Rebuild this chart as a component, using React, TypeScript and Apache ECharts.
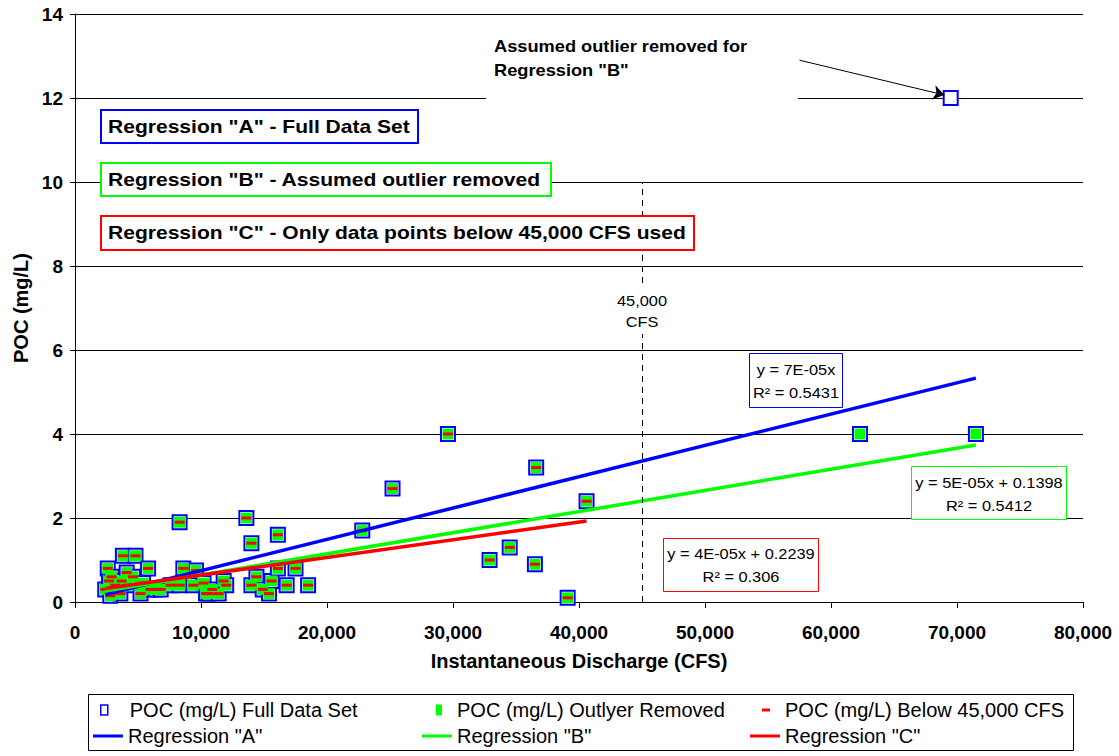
import React, { useEffect, useRef } from "react";
import * as echarts from "echarts";

// ---------- data ----------
const fullDataSet: [number, number][] = [
  [2400, 0.3], [2600, 0.8], [2700, 0.5], [2800, 0.15], [2900, 0.6], [3200, 0.4],
  [3600, 0.2], [3700, 0.5], [3800, 1.1], [4100, 0.7], [4200, 0.4], [4600, 0.6],
  [4800, 1.1], [5200, 0.2], [5400, 0.45], [5800, 0.8], [6000, 0.3], [6400, 0.3],
  [6800, 0.3], [7600, 0.4], [8300, 1.9], [8300, 0.4], [8600, 0.8], [9400, 0.4],
  [9600, 0.75], [10200, 0.45], [10400, 0.2], [10600, 0.2], [10900, 0.3], [11400, 0.2],
  [11800, 0.5], [12000, 0.4], [13600, 2.0], [14000, 1.4], [14000, 0.4], [14400, 0.6],
  [14900, 0.3], [15400, 0.2], [15600, 0.5], [16100, 1.6], [16100, 0.8], [16800, 0.4],
  [17500, 0.8], [18500, 0.4], [22800, 1.7], [25200, 2.7], [29600, 4.0], [32900, 1.0],
  [34500, 1.3], [36500, 0.9], [36600, 3.2], [39100, 0.1], [40600, 2.4], [62300, 4.0],
  [69500, 12.0], [71500, 4.0],
];
const outlierPoint: [number, number] = [69500, 12.0];
const cfsLimit = 45000;

// regression lines (end points)
const regressionA: [number, number][] = [[2400, 0.18], [71500, 5.33]];
const regressionB: [number, number][] = [[2400, 0.26], [71500, 3.74]];
const regressionC: [number, number][] = [[2400, 0.32], [40600, 1.93]];

const equationA = ["y = 7E-05x", "R² = 0.5431"];
const equationB = ["y = 5E-05x + 0.1398", "R² = 0.5412"];
const equationC = ["y = 4E-05x + 0.2239", "R² = 0.306"];

const seriesNames = [
  "POC (mg/L) Full Data Set",
  "POC (mg/L) Outlyer Removed",
  "POC (mg/L) Below 45,000 CFS",
  'Regression "A"',
  'Regression "B"',
  'Regression "C"',
];

const outlyerRemoved = fullDataSet.filter(
  (p) => !(p[0] === outlierPoint[0] && p[1] === outlierPoint[1])
);
const below45k = fullDataSet.filter((p) => p[0] < cfsLimit);

const BLUE = "#0000FF";
const GREEN = "#00FF00";
const RED = "#FF0000";
const FONT = "'Liberation Sans', Arial, sans-serif";
const SX = 1.17;

export default function App() {
  const ref = useRef<HTMLDivElement>(null);
  useEffect(() => {
    document.body.style.margin = "0";
    if (!ref.current) return;
    const chart = echarts.init(ref.current, null, { renderer: "svg" });

    const legendText = (pad: number) => ({
      fontSize: 20,
      fontFamily: FONT,
      color: "#000",
      lineHeight: 22,
      padding: [0, 0, 0, pad],
    });

    const option: any = {
      animation: false,
      backgroundColor: "#fff",
      textStyle: { fontFamily: FONT },
      grid: { left: 75, right: 36, top: 14, bottom: 154, containLabel: false },
      xAxis: {
        type: "value",
        min: 0,
        max: 80000,
        interval: 10000,
        name: "Instantaneous Discharge (CFS)",
        nameLocation: "middle",
        nameGap: 49,
        nameTextStyle: { fontSize: 20, fontWeight: "bold", color: "#000", fontFamily: FONT },
        axisLine: { show: true, lineStyle: { color: "#000", width: 1 } },
        axisTick: { show: true, length: 6, lineStyle: { color: "#000" } },
        axisLabel: {
          fontSize: 19,
          fontWeight: "bold",
          color: "#000",
          margin: 21,
          formatter: (v: number) => v.toLocaleString("en-US"),
        },
        splitLine: { show: false },
      },
      yAxis: {
        type: "value",
        min: 0,
        max: 14,
        interval: 2,
        name: "POC (mg/L)",
        nameLocation: "middle",
        nameGap: 28,
        nameRotate: 90,
        nameTextStyle: { fontSize: 20, fontWeight: "bold", color: "#000", fontFamily: FONT },
        axisLine: { show: true, lineStyle: { color: "#000", width: 1 } },
        axisTick: { show: true, length: 5, lineStyle: { color: "#000" } },
        axisLabel: { fontSize: 19, fontWeight: "bold", color: "#000", margin: 12 },
        splitLine: { show: true, lineStyle: { color: "#000", width: 1 } },
      },
      legend: [
        {
          data: [{ name: seriesNames[0], icon: "rect", itemStyle: { color: "#fff", borderColor: BLUE, borderWidth: 1.5 } }],
          left: 100, top: 699, itemWidth: 7, itemHeight: 10, padding: 0, selectedMode: false,
          textStyle: legendText(17),
        },
        {
          data: [{ name: seriesNames[1], icon: "rect", itemStyle: { color: GREEN, borderWidth: 0 } }],
          left: 436, top: 699, itemWidth: 6, itemHeight: 11, padding: 0, selectedMode: false,
          textStyle: legendText(10),
        },
        {
          data: [{ name: seriesNames[2], icon: "rect", itemStyle: { color: RED, borderWidth: 0 } }],
          left: 762, top: 699, itemWidth: 8, itemHeight: 3, padding: 0, selectedMode: false,
          textStyle: legendText(10),
        },
        {
          data: [{ name: seriesNames[3], icon: "rect", itemStyle: { color: BLUE, borderWidth: 0 } }],
          left: 93, top: 725, itemWidth: 30, itemHeight: 3, padding: 0, selectedMode: false,
          textStyle: legendText(0),
        },
        {
          data: [{ name: seriesNames[4], icon: "rect", itemStyle: { color: GREEN, borderWidth: 0 } }],
          left: 422, top: 725, itemWidth: 30, itemHeight: 3, padding: 0, selectedMode: false,
          textStyle: legendText(0),
        },
        {
          data: [{ name: seriesNames[5], icon: "rect", itemStyle: { color: RED, borderWidth: 0 } }],
          left: 750, top: 725, itemWidth: 30, itemHeight: 3, padding: 0, selectedMode: false,
          textStyle: legendText(0),
        },
      ],
      series: [
        {
          name: seriesNames[0],
          type: "scatter",
          data: fullDataSet,
          symbol: "rect",
          symbolSize: 14,
          itemStyle: { color: "#fff", borderColor: BLUE, borderWidth: 2, opacity: 1 },
          emphasis: { disabled: true },
          markLine: {
            silent: true,
            symbol: ["none", "arrow"],
            symbolSize: 11,
            label: { show: false },
            lineStyle: { color: "#000", width: 1, type: "solid" },
            data: [[{ coord: [57500, 12.9] }, { coord: [69000, 12.07] }]],
          },
        },
        {
          name: seriesNames[1],
          type: "scatter",
          data: outlyerRemoved,
          symbol: "rect",
          symbolSize: 11,
          itemStyle: { color: GREEN, opacity: 1 },
          emphasis: { disabled: true },
          markLine: {
            silent: true,
            symbol: ["none", "none"],
            label: { show: false },
            lineStyle: { color: "#000", width: 1, type: [6, 5] },
            data: [[{ coord: [cfsLimit, 0] }, { coord: [cfsLimit, 10] }]],
          },
        },
        {
          name: seriesNames[2],
          type: "scatter",
          data: below45k,
          symbol: "rect",
          symbolSize: [10, 3],
          itemStyle: { color: RED, opacity: 1 },
          emphasis: { disabled: true },
        },
        {
          name: seriesNames[3],
          type: "line",
          data: regressionA,
          showSymbol: false,
          symbol: "none",
          itemStyle: { color: BLUE },
          lineStyle: { color: BLUE, width: 3.5 },
          emphasis: { disabled: true },
        },
        {
          name: seriesNames[4],
          type: "line",
          data: regressionB,
          showSymbol: false,
          symbol: "none",
          itemStyle: { color: GREEN },
          lineStyle: { color: GREEN, width: 3.5 },
          emphasis: { disabled: true },
        },
        {
          name: seriesNames[5],
          type: "line",
          data: regressionC,
          showSymbol: false,
          symbol: "none",
          itemStyle: { color: RED },
          lineStyle: { color: RED, width: 3.5 },
          emphasis: { disabled: true },
        },
      ],
      graphic: [
        // annotation for the outlier
        { type: "rect", z: 100, shape: { x: 486, y: 30, width: 312, height: 78 }, style: { fill: "#fff" } },
        {
          type: "text", z: 101, x: 494, y: 34, scaleX: 1.14,
          style: {
            text: 'Assumed outlier removed for\nRegression "B"',
            font: `bold 16px ${FONT}`, fill: "#000", lineHeight: 24, verticalAlign: "top",
          },
        },
        // regression descriptions
        { type: "rect", z: 100, shape: { x: 101, y: 110, width: 317, height: 33 }, style: { fill: "#fff", stroke: BLUE, lineWidth: 2 } },
        {
          type: "text", z: 101, x: 108, y: 127, scaleX: SX,
          style: { text: 'Regression "A" - Full Data Set', font: `bold 18px ${FONT}`, fill: "#000", verticalAlign: "middle" },
        },
        { type: "rect", z: 100, shape: { x: 101, y: 163, width: 450, height: 33 }, style: { fill: "#fff", stroke: GREEN, lineWidth: 2 } },
        {
          type: "text", z: 101, x: 108, y: 180, scaleX: SX,
          style: { text: 'Regression "B" - Assumed outlier removed', font: `bold 18px ${FONT}`, fill: "#000", verticalAlign: "middle" },
        },
        { type: "rect", z: 100, shape: { x: 101, y: 216, width: 593, height: 34 }, style: { fill: "#fff", stroke: RED, lineWidth: 2 } },
        {
          type: "text", z: 101, x: 108, y: 233, scaleX: SX,
          style: { text: 'Regression "C" - Only data points below 45,000 CFS used', font: `bold 18px ${FONT}`, fill: "#000", verticalAlign: "middle" },
        },
        // 45,000 CFS label
        {
          type: "text", z: 101, x: 642, y: 288, scaleX: SX,
          style: {
            text: "45,000\nCFS", font: `14px ${FONT}`, fill: "#000", align: "center", verticalAlign: "top",
            lineHeight: 21, backgroundColor: "#fff", padding: [2, 2, 2, 2],
          },
        },
        // equation boxes
        { type: "rect", z: 100, shape: { x: 749.5, y: 353.5, width: 93, height: 54 }, style: { fill: "#fff", stroke: BLUE, lineWidth: 1 } },
        {
          type: "text", z: 101, x: 796, y: 358, scaleX: SX,
          style: { text: equationA.join("\n"), font: `14px ${FONT}`, fill: "#000", align: "center", verticalAlign: "top", lineHeight: 23 },
        },
        { type: "rect", z: 100, shape: { x: 911.5, y: 466.5, width: 155, height: 53 }, style: { fill: "#fff", stroke: GREEN, lineWidth: 1 } },
        {
          type: "text", z: 101, x: 989, y: 471, scaleX: SX,
          style: { text: equationB.join("\n"), font: `14px ${FONT}`, fill: "#000", align: "center", verticalAlign: "top", lineHeight: 23 },
        },
        { type: "rect", z: 100, shape: { x: 663.5, y: 538.5, width: 155, height: 53 }, style: { fill: "#fff", stroke: RED, lineWidth: 1 } },
        {
          type: "text", z: 101, x: 741, y: 542, scaleX: SX,
          style: { text: equationC.join("\n"), font: `14px ${FONT}`, fill: "#000", align: "center", verticalAlign: "top", lineHeight: 23 },
        },
        // legend frame
        { type: "rect", z: 1, shape: { x: 88.5, y: 694.5, width: 985, height: 56 }, style: { fill: "none", stroke: "#000", lineWidth: 1 } },
      ],
    };

    chart.setOption(option);
    return () => chart.dispose();
  }, []);

  return <div ref={ref} style={{ width: 1119, height: 756 }} />;
}
